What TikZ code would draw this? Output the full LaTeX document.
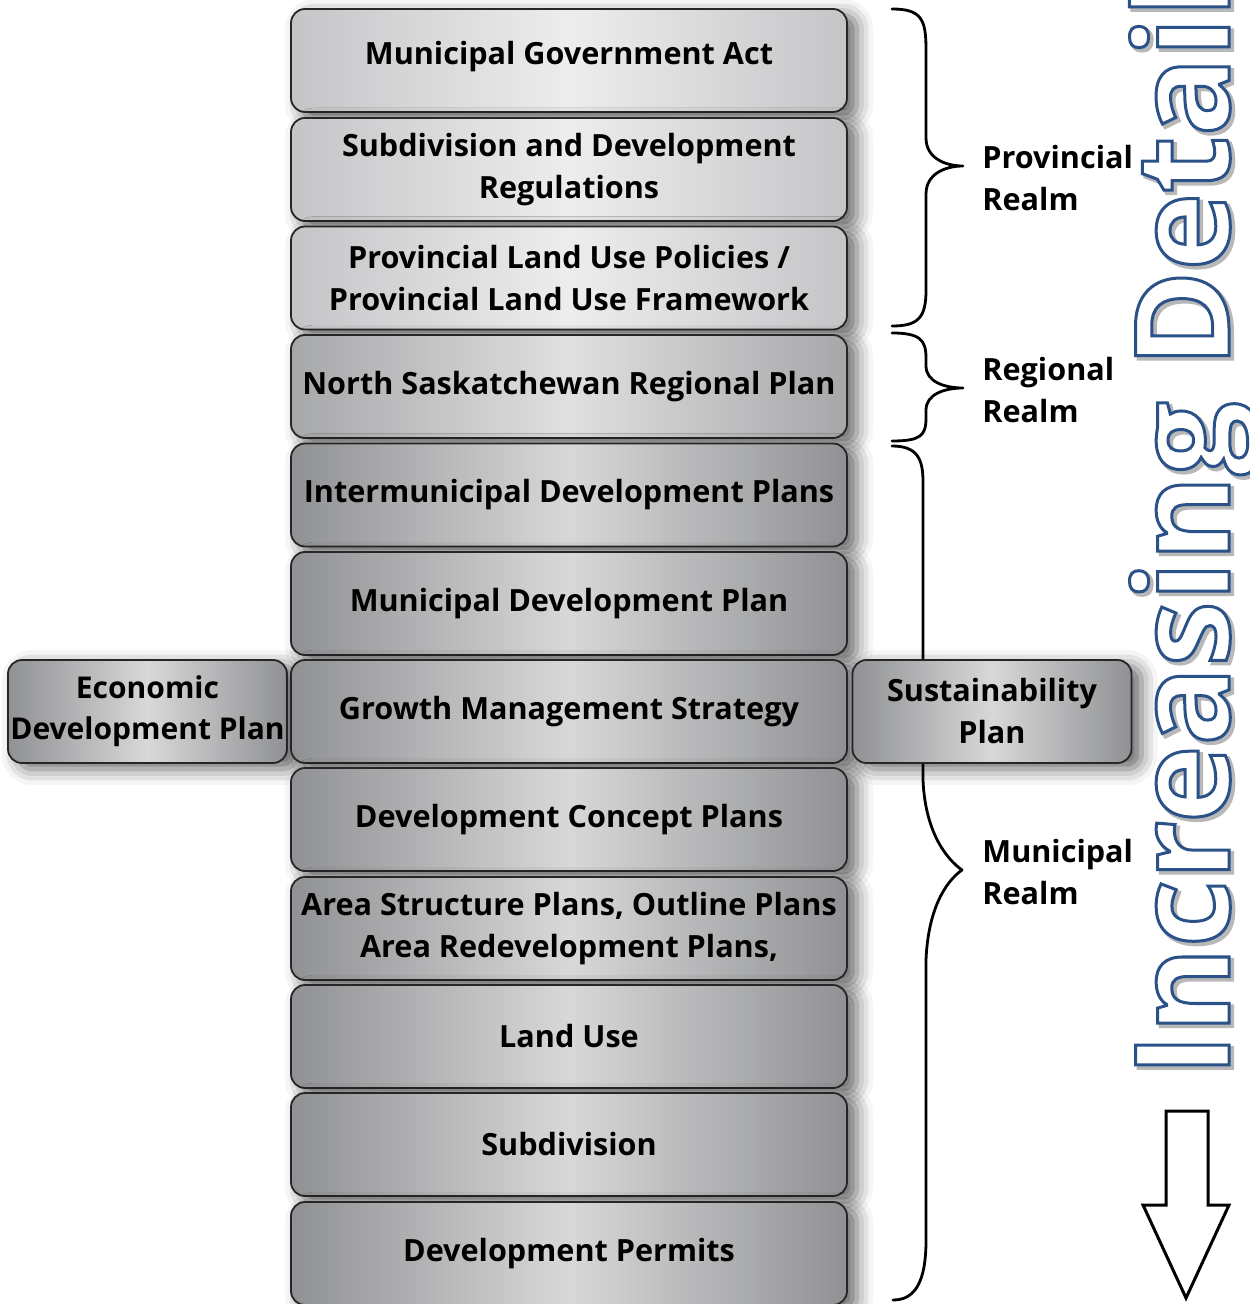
\documentclass[tikz,border=0pt]{standalone}
\usepackage{fontspec}
\setmainfont{Open Sans}
\usetikzlibrary{shadows.blur}
\definecolor{lightE}{HTML}{C4C5C7}
\definecolor{lightC}{HTML}{EDEDED}
\definecolor{medE}{HTML}{A6A7A9}
\definecolor{medC}{HTML}{E0E0E0}
\definecolor{darkE}{HTML}{909194}
\definecolor{darkC}{HTML}{D8D8D8}
\definecolor{dblue}{HTML}{2A5289}
\newcommand\outlinetxt[1]{{\color{dblue}\special{pdf:literal direct 2 Tr 1.5 w 1 g}#1\special{pdf:literal direct 0 Tr}}}
\newcommand\shadowtxt[1]{{\color{black!28}\special{pdf:literal direct 2 Tr 2 w}#1\special{pdf:literal direct 0 Tr}}}
\begin{document}
\begin{tikzpicture}[x=0.5pt,y=-0.5pt,
  font=\fontsize{15.3}{21}\selectfont\bfseries,
  box/.style={draw=black!85, line width=0.9pt, rounded corners=7pt,
    minimum width=278pt, minimum height=51.5pt, inner sep=0pt, outer sep=0pt,
    align=center,
    blur shadow={shadow xshift=5pt, shadow yshift=-3pt, shadow blur radius=8pt, shadow opacity=60}},
  sidebox/.style={box, minimum width=139.5pt},
  light/.style={left color=lightE, right color=lightE, middle color=lightC},
  med/.style={left color=medE, right color=medE, middle color=medC},
  dark/.style={left color=darkE, right color=darkE, middle color=darkC},
  brace/.style={line width=1.4pt, line cap=round, line join=round},
  realm/.style={anchor=west, align=left, inner sep=0pt},
  blockarrow/.style={draw=black, fill=white, line width=1.5pt, line join=miter},
  detail/.style={rotate=90, anchor=base west, inner sep=0pt, font=\fontsize{65.5}{65.5}\selectfont\bfseries}
]
\useasboundingbox (0,0) rectangle (1249,1304);

% braces
\draw[brace] (892,9) .. controls (922,9) and (926,20) .. (926,50) -- (926,138)
  .. controls (926,158) and (945,166) .. (963,166)
  .. controls (945,166) and (926,174) .. (926,194) -- (926,290)
  .. controls (926,318) and (918,326) .. (892,326);
\draw[brace] (892,333) .. controls (920,333) and (926,340) .. (926,358) -- (926,366)
  .. controls (926,382) and (945,388) .. (963,388)
  .. controls (945,388) and (926,394) .. (926,410) -- (926,418)
  .. controls (926,436) and (920,441) .. (892,441);
\draw[brace] (892,446) .. controls (918,446) and (923,460) .. (923,482) -- (923,780)
  .. controls (925,830) and (945,858) .. (962,870)
  .. controls (945,882) and (928,910) .. (926,960) -- (926,1240)
  .. controls (926,1282) and (915,1300) .. (893,1300);

% left side box (drawn first so the column covers its shadow)
\node[sidebox, dark, font=\fontsize{15}{20.5}\selectfont\bfseries] (edp) at (147.5,711.5) {Economic\\Development Plan};

% main column
\node[box, light] (mga)  at (569,60.5)  {\raisebox{8pt}{Municipal Government Act}};
\node[box, light] (sdr)  at (569,169.5) {Subdivision and Development\\Regulations};
\node[box, light] (plup) at (569,278)   {Provincial Land Use Policies /\\Provincial Land Use Framework};
\node[box, med]   (nsrp) at (569,386.5) {North Saskatchewan Regional Plan};
\node[box, dark]  (idp)  at (569,495)   {Intermunicipal Development Plans};
\node[box, dark]  (mdp)  at (569,603.5) {Municipal Development Plan};
\node[box, dark]  (gms)  at (569,711.5) {Growth Management Strategy};
\node[box, dark]  (dcp)  at (569,819.5) {Development Concept Plans};
\node[box, dark]  (asp)  at (569,928.5) {Area Structure Plans, Outline Plans\\Area Redevelopment Plans,};
\node[box, dark]  (lu)   at (569,1036.5){Land Use};
\node[box, dark]  (sub)  at (569,1144.5){Subdivision};
\node[box, dark]  (dp)   at (569,1253.5){Development Permits};

% right side box
\node[sidebox, dark] (sp)  at (992,711.5)   {Sustainability\\Plan};

% realm labels
\node[realm] (prov) at (982,178) {Provincial\\Realm};
\node[realm] (reg)  at (982,390) {Regional\\Realm};
\node[realm] (mun)  at (982,872) {Municipal\\Realm};

% increasing detail arrow
\draw[blockarrow] (1166,1111) -- (1208,1111) -- (1208,1205) -- (1229,1205)
  -- (1186,1298) -- (1143,1205) -- (1166,1205) -- cycle;

% Increasing Detail outlined text
\node[detail] (incs) at (1232,1080) {\shadowtxt{Increasing Detail}};
\node[detail] (inc)  at (1229,1077) {\outlinetxt{Increasing Detail}};
\end{tikzpicture}
\end{document}
